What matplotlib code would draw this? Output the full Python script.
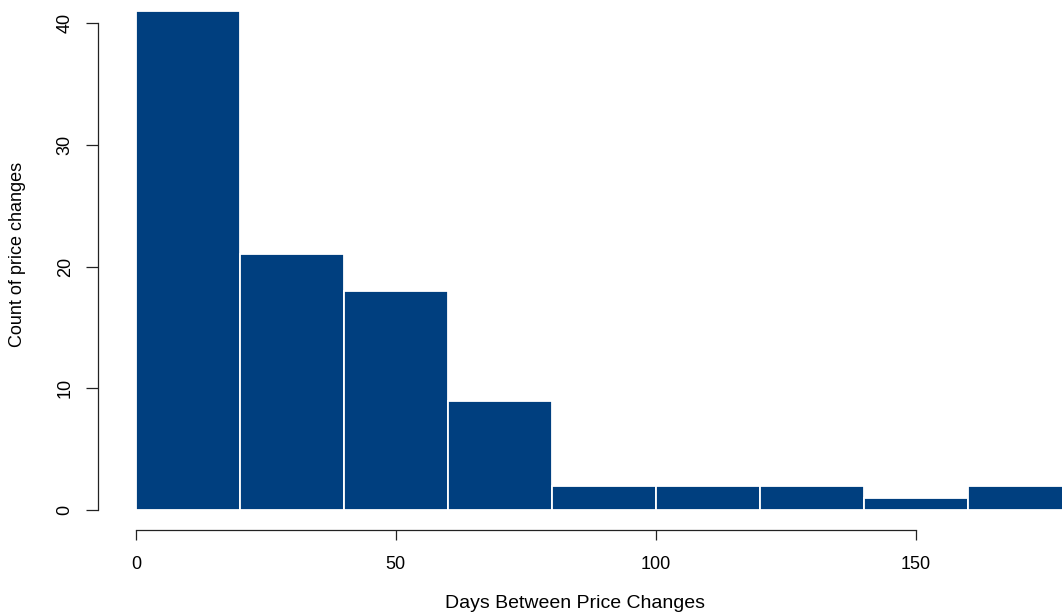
import matplotlib.pyplot as plt

# histogram of days between price changes (bins of 20 days)
bin_edges = [0, 20, 40, 60, 80, 100, 120, 140, 160, 180]
counts = [41, 21, 18, 9, 2, 2, 2, 1, 2]
x_ticks = [0, 50, 100, 150]
y_ticks = [0, 10, 20, 30, 40]

plt.rcParams['font.family'] = ['Liberation Sans', 'DejaVu Sans']

fig = plt.figure(figsize=(10.62, 6.15), dpi=100)
ax = fig.add_axes([98 / 1062, 85 / 615, 1 - 98 / 1062, 530 / 615])

lefts = bin_edges[:-1]
widths = [b - a for a, b in zip(bin_edges[:-1], bin_edges[1:])]
ax.bar(lefts, counts, width=widths, align='edge', color='#003F7F',
       edgecolor='white', linewidth=1.3)

ax.set_xlim(-7.31, 178.18)
ax.set_ylim(-1.64, 41.91)

for s in ['top', 'right']:
    ax.spines[s].set_visible(False)
ax.spines['left'].set_bounds(0, 40)
ax.spines['bottom'].set_bounds(0, 150)
for s in ['left', 'bottom']:
    ax.spines[s].set_color('#222222')
    ax.spines[s].set_linewidth(0.9)

ax.set_xticks(x_ticks)
ax.set_yticks(y_ticks)
ax.set_yticklabels([str(v) for v in y_ticks], rotation=90, va='center')
ax.tick_params(axis='x', length=7.5, width=0.9, color='#222222', pad=11, labelsize=13)
ax.tick_params(axis='y', length=8.5, width=0.9, color='#222222', pad=9, labelsize=13)

fig.text(575 / 1062, 1 - 603 / 615, 'Days Between Price Changes', ha='center', va='center', fontsize=14)
fig.text(18 / 1062, 1 - 254 / 615, 'Count of price changes', ha='center', va='center',
         rotation=90, fontsize=13)

fig.savefig('out.png', dpi=100)
